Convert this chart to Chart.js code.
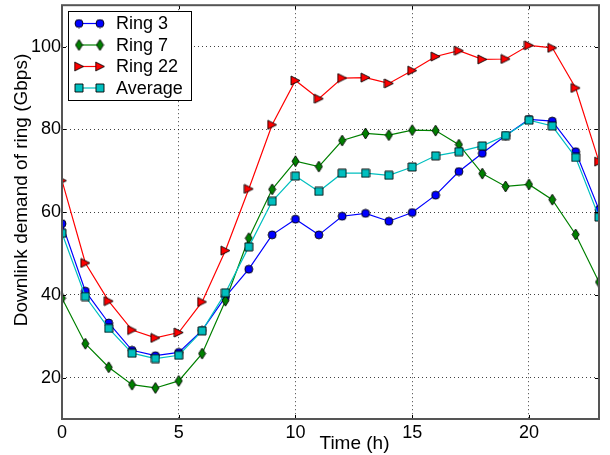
<!DOCTYPE html>
<html>
<head>
<meta charset="utf-8">
<script src="https://cdn.jsdelivr.net/npm/chart.js@4.4.0/dist/chart.umd.min.js"></script>
<style>
  html, body { margin: 0; padding: 0; background: #fff; }
  canvas { display: block; }
</style>
</head>
<body>
<canvas id="demandChart" width="610" height="455"></canvas>
<script>
const hours = [0, 1, 2, 3, 4, 5, 6, 7, 8, 9, 10, 11, 12, 13, 14, 15, 16, 17, 18, 19, 20, 21, 22, 23];
const ring3 = [57.2, 40.9, 33.2, 26.6, 25.3, 26.1, 31.4, 39.5, 46.2, 54.5, 58.3, 54.5, 59.0, 59.7, 57.8, 59.9, 64.1, 69.8, 74.2, 78.5, 82.4, 82.0, 74.6, 60.6];
const ring7 = [39.2, 28.2, 22.5, 18.3, 17.5, 19.2, 25.8, 38.6, 53.7, 65.5, 72.3, 71.0, 77.3, 79.0, 78.6, 79.8, 79.7, 76.3, 69.3, 66.2, 66.7, 63.0, 54.6, 43.1];
const ring22 = [67.6, 47.7, 38.5, 31.5, 29.6, 30.9, 38.3, 50.7, 65.6, 81.1, 91.8, 87.4, 92.4, 92.5, 91.1, 94.2, 97.6, 99.0, 96.9, 97.0, 100.3, 99.7, 90.0, 72.2];
const average = [54.9, 39.6, 31.9, 25.9, 24.6, 25.4, 31.3, 40.5, 51.6, 62.6, 68.7, 65.0, 69.4, 69.4, 68.9, 70.9, 73.6, 74.6, 76.0, 78.5, 82.2, 80.8, 73.2, 58.8];
const seriesNames = ['Ring 3', 'Ring 7', 'Ring 22', 'Average'];
const xTicks = [0, 5, 10, 15, 20];
const yTicks = [20, 40, 60, 80, 100];

const FONT = '"Liberation Sans", Arial, sans-serif';

// small canvases used as matplotlib-like markers
const makeMarker = (shape, fill, w, h) => {
  const c = document.createElement('canvas');
  c.width = w + 2;
  c.height = h + 2;
  const ctx = c.getContext('2d');
  const cx = c.width / 2, cy = c.height / 2;
  ctx.beginPath();
  if (shape === 'circle') {
    ctx.arc(cx, cy, w / 2, 0, Math.PI * 2);
  } else if (shape === 'diamond') {
    ctx.moveTo(cx, cy - h / 2);
    ctx.lineTo(cx + w / 2, cy);
    ctx.lineTo(cx, cy + h / 2);
    ctx.lineTo(cx - w / 2, cy);
    ctx.closePath();
  } else if (shape === 'triangle') {
    ctx.moveTo(cx - w / 2, cy - h / 2);
    ctx.lineTo(cx + w / 2, cy);
    ctx.lineTo(cx - w / 2, cy + h / 2);
    ctx.closePath();
  } else {
    ctx.rect(cx - w / 2, cy - h / 2, w, h);
  }
  ctx.fillStyle = fill;
  ctx.fill();
  ctx.lineWidth = 0.9;
  ctx.strokeStyle = '#000';
  ctx.stroke();
  return c;
};

const toPoints = (values) => hours.map((h, i) => ({ x: h, y: values[i] }));

const colors = ['#0000ff', '#008000', '#ff0000', '#00bfbf'];
const markers = [
  makeMarker('circle', colors[0], 8, 8),
  makeMarker('diamond', colors[1], 7, 11),
  makeMarker('triangle', colors[2], 9, 9),
  makeMarker('square', colors[3], 8, 8)
];
const values = [ring3, ring7, ring22, average];

const datasets = values.map((v, i) => ({
  label: seriesNames[i],
  data: toPoints(v),
  borderColor: colors[i],
  backgroundColor: colors[i],
  borderWidth: 1.2,
  pointStyle: markers[i],
  pointRadius: 4,
  tension: 0,
  order: values.length - i
}));

// frame, inward ticks, axis titles and legend box
const decorations = {
  id: 'decorations',
  afterDatasetsDraw(chart) {
    const { ctx, chartArea: a, scales } = chart;
    ctx.save();
    ctx.strokeStyle = '#000';
    ctx.lineWidth = 1;
    ctx.beginPath();
    xTicks.forEach(t => {
      const px = Math.round(scales.x.getPixelForValue(t)) + 0.5;
      ctx.moveTo(px, a.bottom); ctx.lineTo(px, a.bottom - 4);
      ctx.moveTo(px, a.top); ctx.lineTo(px, a.top + 4);
    });
    yTicks.forEach(t => {
      const py = Math.round(scales.y.getPixelForValue(t)) + 0.5;
      ctx.moveTo(a.left, py); ctx.lineTo(a.left + 4, py);
      ctx.moveTo(a.right, py); ctx.lineTo(a.right - 4, py);
    });
    ctx.stroke();
    ctx.strokeStyle = '#555';
    ctx.lineWidth = 2;
    ctx.strokeRect(a.left, a.top, a.right - a.left, a.bottom - a.top);
    ctx.restore();
  },
  afterDraw(chart) {
    const { ctx } = chart;
    ctx.save();
    ctx.fillStyle = '#000';
    ctx.font = '19px ' + FONT;
    ctx.textAlign = 'center';
    ctx.textBaseline = 'alphabetic';
    ctx.fillText('Time (h)', 354.5, 449);
    ctx.translate(27, 190);
    ctx.rotate(-Math.PI / 2);
    ctx.fillText('Downlink demand of ring (Gbps)', 0, 0);
    ctx.restore();

    // legend
    ctx.save();
    ctx.fillStyle = '#fff';
    ctx.fillRect(68, 11, 123, 89);
    ctx.strokeStyle = '#000';
    ctx.lineWidth = 1;
    ctx.strokeRect(68.5, 11.5, 123, 89);
    ctx.font = '18px ' + FONT;
    ctx.textAlign = 'left';
    ctx.textBaseline = 'middle';
    chart.data.datasets.forEach((ds, i) => {
      const y = 23.5 + i * 21.5;
      ctx.strokeStyle = ds.borderColor;
      ctx.lineWidth = 1.2;
      ctx.beginPath();
      ctx.moveTo(79, y); ctx.lineTo(100, y);
      ctx.stroke();
      const m = ds.pointStyle;
      ctx.drawImage(m, 79 - m.width / 2, y - m.height / 2);
      ctx.drawImage(m, 100 - m.width / 2, y - m.height / 2);
      ctx.fillStyle = '#000';
      ctx.fillText(ds.label, 116, y + 1);
    });
    ctx.restore();
  }
};

new Chart(document.getElementById('demandChart'), {
  type: 'line',
  data: { datasets },
  options: {
    responsive: false,
    animation: false,
    layout: { padding: { top: 4, right: 11, left: 0, bottom: 0 } },
    plugins: {
      legend: { display: false },
      tooltip: { enabled: false }
    },
    scales: {
      x: {
        type: 'linear',
        min: 0,
        max: 23,
        afterBuildTicks: scale => { scale.ticks = xTicks.map(v => ({ value: v })); },
        afterFit: scale => {
          scale.height = 36;
          scale.paddingLeft = 0;
          scale.paddingRight = 0;
        },
        ticks: { color: '#000', font: { family: FONT, size: 18 }, padding: 3, maxRotation: 0 },
        grid: { color: 'rgba(0,0,0,0.75)', lineWidth: 1, drawTicks: false },
        border: { display: false, dash: [1, 3] }
      },
      y: {
        min: 10,
        max: 110,
        afterBuildTicks: scale => { scale.ticks = yTicks.map(v => ({ value: v })); },
        afterFit: scale => {
          scale.width = 62;
          scale.paddingTop = 0;
          scale.paddingBottom = 0;
        },
        ticks: { color: '#000', font: { family: FONT, size: 18 }, padding: 1 },
        grid: { color: 'rgba(0,0,0,0.75)', lineWidth: 1, drawTicks: false },
        border: { display: false, dash: [1, 3] }
      }
    }
  },
  plugins: [decorations]
});
</script>
</body>
</html>
